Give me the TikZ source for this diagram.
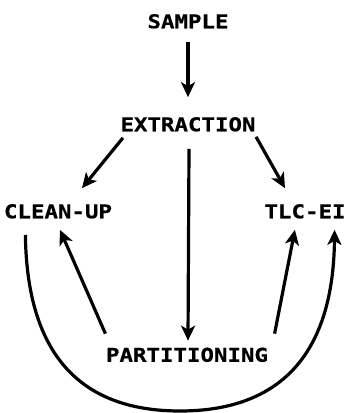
\documentclass[tikz,border=0pt]{standalone}
\usepackage{fontspec}
\newfontfamily\flowfont{DejaVu Sans Mono}[FakeStretch=1.18,BoldFeatures={FakeBold=0.6}]
\usetikzlibrary{arrows.meta,positioning}

\begin{document}
\begin{tikzpicture}[x=1pt,y=-1pt,->,>={Stealth[length=15pt,width=14pt,inset=4pt]},line width=3.2pt,
  every node/.style={font=\flowfont\bfseries\fontsize{19}{19}\selectfont,inner sep=0pt,text height=13.5pt,text depth=0pt}]
\useasboundingbox (0,0) rectangle (347,413);
  \node (S) at (188,21.5)  {SAMPLE};
  \node (X) at (188,124.5) {EXTRACTION};
  \node (C) at (58,211.5)  {CLEAN-UP};
  \node (T) at (305,211.5) {TLC-EI};
  \node (P) at (187,355)   {PARTITIONING};
\path (S) edge[shorten <=12pt,shorten >=19pt] (X)
      ([shift={(4,5)}]X.south west) edge ([shift={(24,-15)}]C.north)
      ([shift={(-1,4)}]X.south east) edge ([shift={(-20,-15)}]T.north)
      ([shift={(1,16)}]X.south) edge ([shift={(1,-6)}]P.north)
      ([shift={(1,-13)}]P.north west) edge ([shift={(2,10)}]C.south)
      ([shift={(5,-13)}]P.north east) edge ([shift={(32,10)}]T.south west);
\draw ([shift={(23,15)}]C.south west) .. controls (27,370) and (95,411) .. (180,411)
      .. controls (265,411) and (333,370) .. ([shift={(-12.5,10)}]T.south east);
\end{tikzpicture}
\end{document}
